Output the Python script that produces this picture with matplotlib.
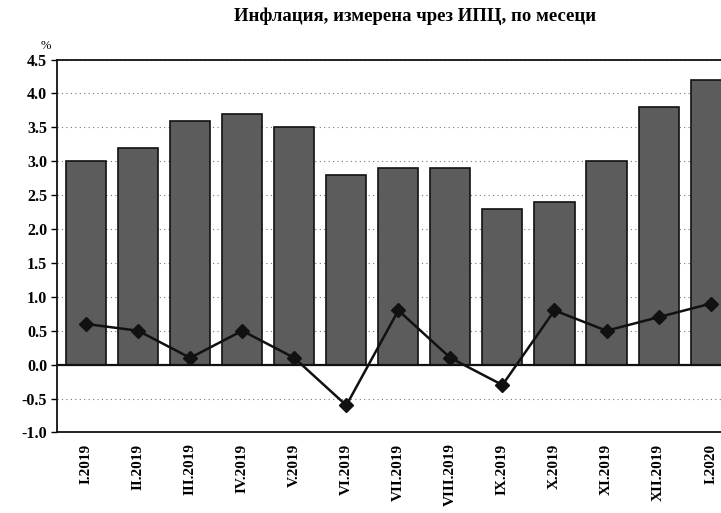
# -*- coding: utf-8 -*-
"""
Monthly CPI inflation chart: annual rate as bars, monthly change as a line.
"""

import matplotlib
matplotlib.use("Agg")
import matplotlib.pyplot as plt

# Data (%)
months = ["I.2019", "II.2019", "III.2019", "IV.2019", "V.2019", "VI.2019",
          "VII.2019", "VIII.2019", "IX.2019", "X.2019", "XI.2019",
          "XII.2019", "I.2020"]
annual = [3.0, 3.2, 3.6, 3.7, 3.5, 2.8, 2.9, 2.9, 2.3, 2.4, 3.0, 3.8, 4.2]
monthly = [0.6, 0.5, 0.1, 0.5, 0.1, -0.6, 0.8, 0.1, -0.3, 0.8, 0.5, 0.7, 0.9]
yticks = [-1.0, -0.5, 0.0, 0.5, 1.0, 1.5, 2.0, 2.5, 3.0, 3.5, 4.0, 4.5]

plt.rcParams['font.family'] = ['Liberation Serif', 'DejaVu Serif']

fig = plt.figure(figsize=(7.21, 5.13), dpi=100)
ax = fig.add_axes([0.079, 0.157, 0.921, 0.727])

x = range(len(months))
ax.bar(x, annual, width=0.77, color="#5c5c5c", edgecolor="#111111",
       linewidth=1.2, zorder=2)
ax.plot(x, monthly, color="#111111", linewidth=1.8, marker="D",
        markersize=7.5, zorder=3)

# Frame and grid
ax.set_ylim(-1.0, 4.5)
ax.set_xlim(-0.56, 12.2)
ax.set_yticks(yticks)
ax.set_yticklabels(["%.1f" % v for v in yticks], fontsize=11.5,
                   fontweight="bold")
ax.yaxis.grid(True, linestyle=(0, (1, 3)), color="#777777", linewidth=0.8,
              zorder=0)
ax.axhline(0, color="#111111", linewidth=1.6, zorder=2.5)
ax.set_xticks(list(x))
ax.set_xticklabels(months, rotation=90, fontsize=11, fontweight="bold")
ax.tick_params(axis="x", length=0, pad=8)
ax.tick_params(axis="y", length=4, width=1, direction="out", pad=3)
ax.spines["right"].set_visible(False)
for side in ("top", "bottom", "left"):
    ax.spines[side].set_color("#111111")
    ax.spines[side].set_linewidth(1.3)

fig.text(0.575, 0.968, "Инфлация, измерена чрез ИПЦ, по месеци",
         ha="center", va="center", fontsize=13.5, fontweight="bold")
fig.text(0.063, 0.91, "%", ha="center", va="center", fontsize=9)

fig.savefig("out.png", dpi=100)
